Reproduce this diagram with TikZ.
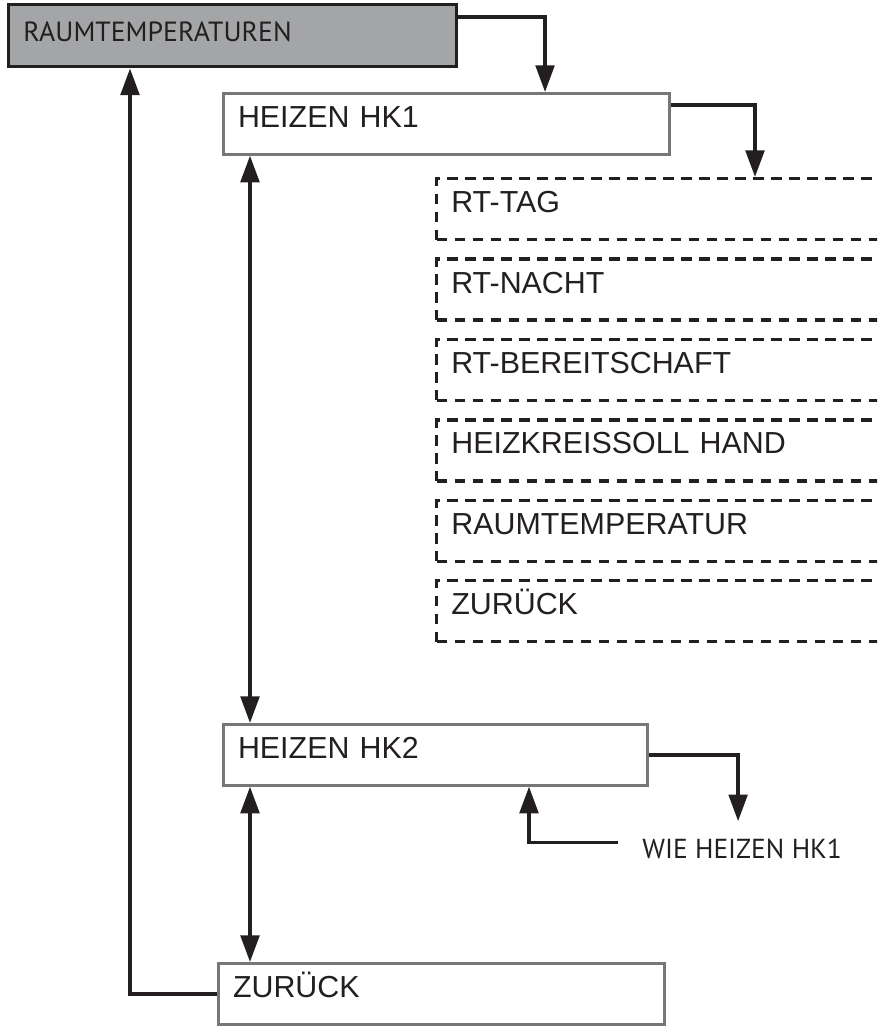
\documentclass[tikz,border=0pt]{standalone}
\usepackage{fontspec}
\setmainfont{Liberation Sans}
\newfontfamily\menufont{PT Sans}
\usetikzlibrary{arrows.meta, positioning, calc}
\definecolor{ink}{HTML}{231F20}
\definecolor{headgray}{HTML}{A3A5A7}
\definecolor{framegray}{HTML}{777777}

\begin{document}
\begin{tikzpicture}[
    x=0.75pt, y=-0.75pt,
    box/.style={rectangle, draw=framegray, line width=2pt, fill=white, anchor=north west, align=left, inner xsep=11pt, minimum height=45.75pt, text height=15pt, text depth=9.75pt, font=\fontsize{22.8}{25}\selectfont, text=ink},
    head/.style={box, draw=ink, fill=headgray, line width=2.6pt, minimum height=46.5pt, text height=13.5pt, text depth=4.5pt, font=\menufont\fontsize{20.8}{23}\selectfont},
    sub/.style={box, draw=ink, dash pattern=on 8pt off 5.5pt, line width=2.5pt, text width=368pt},
    arrow/.style={-{Triangle[length=20pt, width=14pt]}, line width=2.6pt, draw=ink},
    dblarrow/.style={arrow, {Triangle[length=20pt, width=14pt]}-{Triangle[length=20pt, width=14pt]}},
    note/.style={font=\menufont\fontsize{20.6}{23}\selectfont, text=ink, anchor=base west, inner xsep=18pt, inner ysep=12.75pt}
]
    \useasboundingbox (0,0) rectangle (877,1030);
    \clip (0,0) rectangle (877,1030);

    % Main menu
    \node[head, text width=314pt] (raum) at (7,3) {RAUMTEMPERATUREN};
    \node[box, text width=312.5pt] (hk1) at (222,92) {HEIZEN HK1};

    % Submenu of HK1
    \foreach \name/\txt [count=\i from 0] in {rttag/RT-TAG, rtnacht/RT-NACHT, rtbereit/RT-BEREITSCHAFT, hksoll/HEIZKREISSOLL HAND, raumt/RAUMTEMPERATUR, back1/ZURÜCK}
        \node[sub] (\name) at (435, 177+80.4*\i) {\txt};

    \node[box, text width=296pt] (hk2) at (222,723) {HEIZEN HK2};
    \node[box, text width=312.5pt] (zur) at (217,962) {ZURÜCK};
    \node[note] (wie) at (618,858) {WIE HEIZEN HK1};

    % Arrows
    \draw[arrow] ([yshift=-10.5pt]raum.north east) -| ($(hk1.north west)!0.72!(hk1.north east)$);
    \draw[arrow] ([yshift=-9.75pt]hk1.north east) -| ($(rttag.north west)+(320,0)$);
    \draw[dblarrow] ($(hk1.south west)+(28,0)$) -- ($(hk2.north west)+(28,0)$);
    \draw[dblarrow] ($(hk2.south west)+(28,0)$) -- ($(zur.north west)+(33,0)$);
    \draw[arrow] (zur.west) -| ($(raum.south west)+(123,0)$);
    \draw[arrow] (hk2.east) -| ($(wie.north)+(-4,0)$);
    \draw[arrow] ([yshift=4.5pt]wie.west) -| ($(hk2.south west)+(307,0)$);

\end{tikzpicture}
\end{document}
